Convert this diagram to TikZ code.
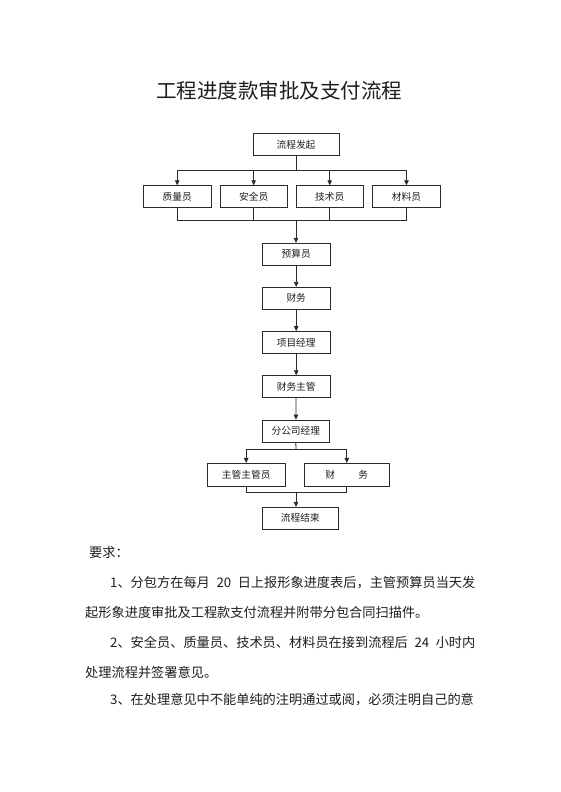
\documentclass[tikz,border=0pt]{standalone}
\usepackage{fontspec}
\setmainfont{Noto Sans CJK SC}
\usetikzlibrary{arrows.meta}
\definecolor{ink}{HTML}{1E1E1E}
\definecolor{linec}{HTML}{2A2A2A}
\newcommand{\gp}{\hspace{0.5em}}
\begin{document}
\begin{tikzpicture}[x=1pt,y=-1pt,
  box/.style={draw=linec,line width=0.8pt,rectangle,inner sep=0pt,text=ink,font=\fontsize{9.7}{11}\selectfont},
  ln/.style={draw=linec,line width=0.8pt},
  arr/.style={draw=linec,line width=0.8pt,-{Triangle[length=5pt,width=4.5pt]}},
  body/.style={anchor=west,inner sep=0pt,text=ink,font=\fontsize{13.2}{15}\selectfont}]
\useasboundingbox[fill=white] (0,0) rectangle (560,792);
\node[inner sep=0pt,text=ink,font=\fontsize{20.5}{24}\selectfont] (title) at (279,91) {工程进度款审批及支付流程};
% top
\node[box,minimum width=86pt,minimum height=22.5pt] (start) at (296,144.5) {流程发起};
\node[box,minimum width=67.7pt,minimum height=21.6pt] (q) at (177.2,196.5) {质量员};
\node[box,minimum width=67.3pt,minimum height=21.6pt] (s) at (253.7,196.5) {安全员};
\node[box,minimum width=67.3pt,minimum height=21.6pt] (t) at (329.7,196.5) {技术员};
\node[box,minimum width=68.5pt,minimum height=21.6pt] (m) at (406.5,196.5) {材料员};
\coordinate (sp1) at (296,170);
\coordinate (jn1) at (296,220.7);
\draw[ln] (start.south) -- (sp1);
\draw[ln] (sp1 -| q) -- (sp1 -| m);
\foreach \n in {q,s,t,m} {\draw[arr] (sp1 -| \n) -- (\n.north);}
\foreach \n in {q,s,t,m} {\draw[ln] (\n.south) -- (jn1 -| \n);}
\draw[ln] (jn1 -| q) -- (jn1 -| m);
% chain
\node[box,minimum width=67.7pt,minimum height=22pt] (b1) at (296.2,254.3) {预算员};
\node[box,minimum width=67.7pt,minimum height=22pt] (b2) at (296.2,298.3) {财务};
\node[box,minimum width=67.7pt,minimum height=22pt] (b3) at (296.2,342.5) {项目经理};
\node[box,minimum width=67.7pt,minimum height=22pt] (b4) at (296.2,386.7) {财务主管};
\node[box,minimum width=67pt,minimum height=22.3pt] (b5) at (295.8,431.2) {分公司经理};
\draw[arr] (jn1) -- (jn1 |- b1.north);
\draw[arr] (b1) -- (b2);
\draw[arr] (b2) -- (b3);
\draw[arr] (b3) -- (b4);
\draw[arr] (b4) -- (b5);
% split 2
\node[box,minimum width=77.7pt,minimum height=22.7pt] (c1) at (246.2,474.7) {主管主管员};
\node[box,minimum width=85pt,minimum height=22.7pt] (c2) at (346.8,474.7) {财\hspace{2.4em}务};
\coordinate (sp2) at (296,449);
\coordinate (jn2) at (296,492.7);
\draw[ln] (b5.south) -- (sp2);
\draw[ln] (sp2 -| c1) -- (sp2 -| c2);
\draw[arr] (sp2 -| c1) -- (c1.north);
\draw[arr] (sp2 -| c2) -- (c2.north);
\draw[ln] (c1.south) -- (jn2 -| c1);
\draw[ln] (c2.south) -- (jn2 -| c2);
\draw[ln] (jn2 -| c1) -- (jn2 -| c2);
\node[box,minimum width=76pt,minimum height=22pt] (end) at (300.3,518.3) {流程结束};
\draw[arr] (jn2) -- (jn2 |- end.north);
% text
\node[body] (r0) at (89,553) {要求：};
\node[body] (r1) at (110,583) {1、分包方在每月\gp{}20\gp{}日上报形象进度表后，主管预算员当天发};
\node[body] (r2) at (85,612) {起形象进度审批及工程款支付流程并附带分包合同扫描件。};
\node[body] (r3) at (110,642) {2、安全员、质量员、技术员、材料员在接到流程后\gp{}24\gp{}小时内};
\node[body] (r4) at (85,672) {处理流程并签署意见。};
\node[body] (r5) at (110,700) {3、在处理意见中不能单纯的注明通过或阅，必须注明自己的意};
\end{tikzpicture}
\end{document}
